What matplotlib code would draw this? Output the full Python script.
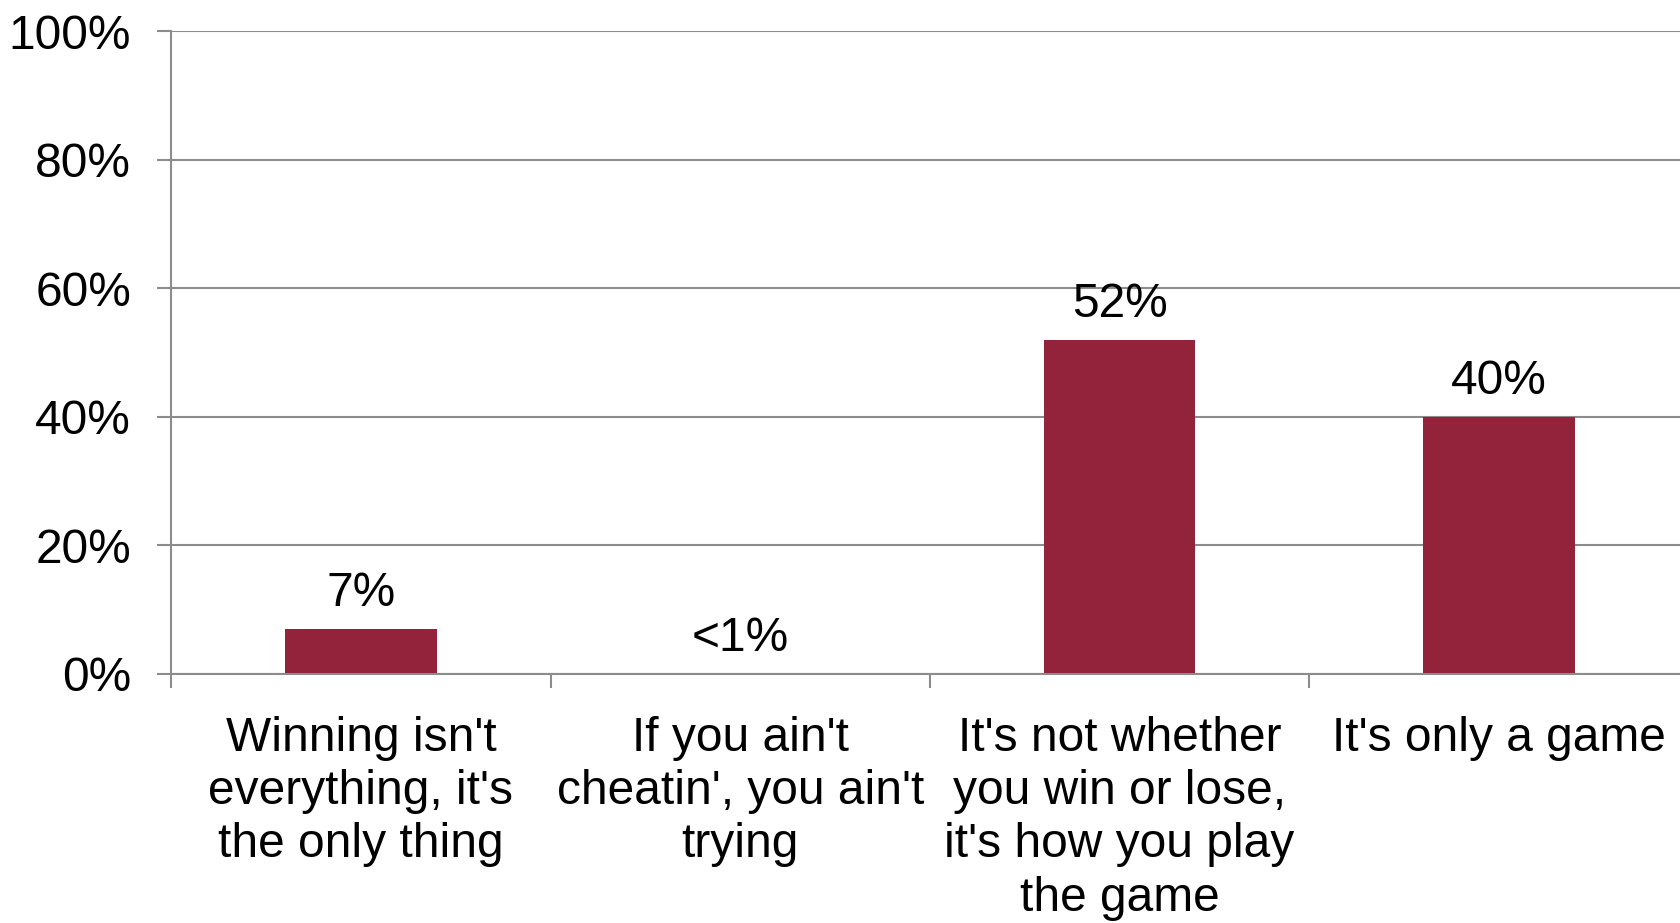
import matplotlib
matplotlib.use("Agg")
import matplotlib.pyplot as plt
from matplotlib.ticker import FuncFormatter

plt.rcParams['font.family'] = ['Liberation Sans', 'DejaVu Sans']

categories = [
    "Winning isn't\neverything, it's\nthe only thing",
    "If you ain't\ncheatin', you ain't\ntrying",
    "It's not whether\nyou win or lose,\nit's how you play\nthe game",
    "It's only a game",
]
values = [7, 0, 52, 40]
value_labels = ["7%", "<1%", "52%", "40%"]
yticks = [0, 20, 40, 60, 80, 100]

bar_color = "#92233A"
grid_color = "#8C8C8C"
fs = 34.5

fig = plt.figure(figsize=(16.8, 9.23), dpi=100)
ax = fig.add_axes([0.102, 0.2698, 0.903, 0.6966])

x = list(range(len(categories)))
ax.bar(x, values, width=0.40, color=bar_color, zorder=3)

ax.set_xlim(-0.5, len(categories) - 0.5)
ax.set_ylim(0, 100)
ax.set_yticks(yticks)
ax.yaxis.set_major_formatter(FuncFormatter(lambda v, p: f"{int(v)}%"))
ax.yaxis.grid(True, color=grid_color, linewidth=1.5, zorder=0)
ax.set_axisbelow(True)

# category boundary ticks
ax.set_xticks([i - 0.5 for i in range(len(categories) + 1)])
ax.set_xticklabels([])
ax.tick_params(axis='x', length=10, width=1.5, color=grid_color)
ax.tick_params(axis='y', length=10, width=1.5, color=grid_color, pad=19, labelsize=fs)

for s in ['top', 'right']:
    ax.spines[s].set_visible(False)
for s in ['left', 'bottom']:
    ax.spines[s].set_color(grid_color)
    ax.spines[s].set_linewidth(1.5)
ax.spines['bottom'].set_zorder(4)

for xi, cat in zip(x, categories):
    ax.annotate(cat, xy=(xi, 0), xycoords=('data', 'axes fraction'),
                xytext=(0, -30), textcoords='offset points',
                ha='center', va='top', fontsize=fs, linespacing=1.24)

for xi, v, lab in zip(x, values, value_labels):
    ax.annotate(lab, xy=(xi, v), xytext=(0, 9), textcoords='offset points',
                ha='center', va='bottom', fontsize=fs)

fig.savefig("out.png", dpi=100, facecolor="white")
